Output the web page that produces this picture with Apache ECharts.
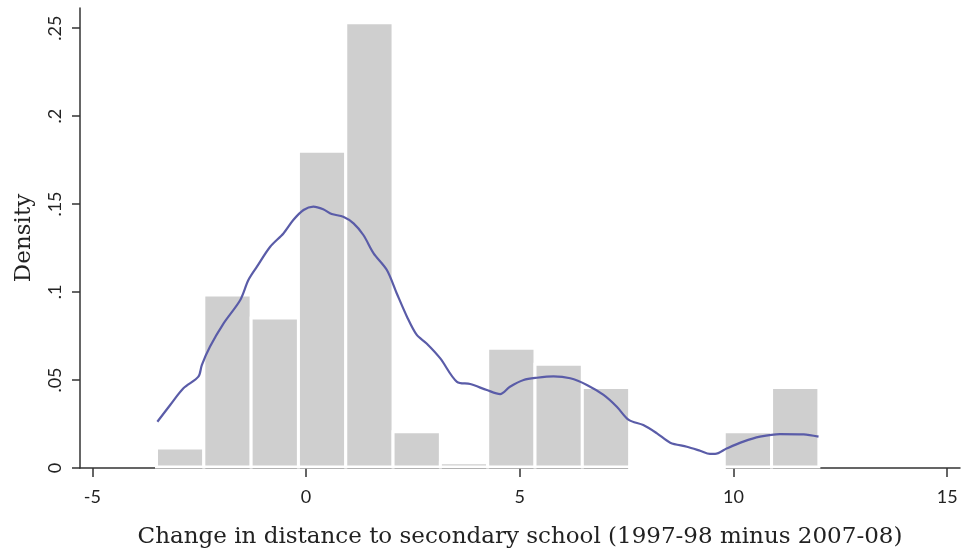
<!DOCTYPE html>
<html>
<head>
<meta charset="utf-8">
<script src="https://cdn.jsdelivr.net/npm/echarts@6/dist/echarts.min.js"></script>
<style>html,body{margin:0;padding:0;background:#fff}#c{width:964px;height:555px}</style>
</head>
<body>
<div id="c"></div>
<script>
// Histogram bins (start of first bin, bin width) and densities
const binStart = -3.5;
const binWidth = 1.107;
const binDensity = [0.0114, 0.0983, 0.0852, 0.180, 0.253, 0.0206, 0.003, 0.068, 0.0589, 0.0458, 0, 0, 0.0206, 0.0458];

// Kernel density curve (x, density)
const kdeX = [-3.48,-3.18,-2.87,-2.52,-2.44,-2.25,-1.93,-1.54,-1.35,-1.15,-0.84,-0.53,-0.30,-0.06,0.17,0.40,0.60,0.87,1.11,1.34,1.58,1.89,2.12,2.36,2.59,2.82,3.14,3.53,3.84,4.23,4.54,4.77,5.09,5.40,5.79,6.18,6.57,6.96,7.27,7.55,7.89,8.21,8.52,8.91,9.22,9.45,9.57,9.85,10.23,10.62,11.09,11.64,11.99];
const kdeY = [0.0263,0.0358,0.0453,0.0519,0.0585,0.0689,0.0822,0.0955,0.1068,0.1144,0.1257,0.1333,0.1409,0.1466,0.1485,0.1470,0.1443,0.1428,0.139,0.1324,0.122,0.1125,0.0993,0.086,0.0756,0.0708,0.0623,0.049,0.0477,0.0443,0.042,0.0462,0.05,0.0513,0.0521,0.051,0.0472,0.0415,0.0348,0.0273,0.0244,0.0197,0.0144,0.0121,0.0098,0.008,0.008,0.0112,0.015,0.0178,0.0193,0.0191,0.0178];

const xTicks = [-5, 0, 5, 10, 15];
const yTicks = [0, 0.05, 0.1, 0.15, 0.2, 0.25];
const yTickLabels = ['0', '.05', '.1', '.15', '.2', '.25'];

const bars = binDensity.map((d, i) => [binStart + i * binWidth, binStart + (i + 1) * binWidth, d]);
const kde = kdeX.map((x, i) => [x, kdeY[i]]);

const chart = echarts.init(document.getElementById('c'));
chart.setOption({
  animation: false,
  backgroundColor: '#fff',
  grid: { left: 80, right: 4, top: 8, bottom: 87 },
  xAxis: {
    type: 'value', min: -5.29, max: 15.3,
    name: 'Change in distance to secondary school (1997-98 minus 2007-08)',
    nameLocation: 'middle', nameGap: 58,
    nameTextStyle: { fontFamily: 'DejaVu Serif', fontSize: 23, color: '#222' },
    axisLine: { show: true, onZero: false, lineStyle: { color: '#333', width: 1.5 } },
    axisTick: { show: true, length: 9, customValues: xTicks, lineStyle: { color: '#333', width: 1.5 } },
    axisLabel: { customValues: xTicks, margin: 20, fontFamily: 'Lato', fontSize: 18, color: '#222' },
    splitLine: { show: false }
  },
  yAxis: {
    type: 'value', min: 0, max: 0.2614,
    name: 'Density', nameLocation: 'middle', nameGap: 44,
    nameTextStyle: { fontFamily: 'DejaVu Serif', fontSize: 23, color: '#222' },
    axisLine: { show: true, onZero: false, lineStyle: { color: '#333', width: 1.5 } },
    axisTick: { show: true, length: 8, customValues: yTicks, lineStyle: { color: '#333', width: 1.5 } },
    axisLabel: {
      customValues: yTicks, rotate: 90, margin: 16, fontFamily: 'Lato', fontSize: 18, color: '#222',
      formatter: v => { const i = yTicks.findIndex(t => Math.abs(t - v) < 1e-9); return i >= 0 ? yTickLabels[i] : ''; }
    },
    splitLine: { show: false }
  },
  series: [
    {
      type: 'custom',
      data: bars,
      renderItem: (params, api) => {
        const p0 = api.coord([api.value(0), api.value(2)]);
        const p1 = api.coord([api.value(1), 0]);
        return {
          type: 'rect',
          shape: { x: p0[0], y: p0[1], width: p1[0] - p0[0], height: p1[1] - p0[1] - 1 },
          style: { fill: '#cfcfcf', stroke: '#ffffff', lineWidth: 3 }
        };
      },
      encode: { x: [0, 1], y: 2 }
    },
    {
      type: 'line',
      data: kde,
      smooth: 0.3,
      symbol: 'none',
      lineStyle: { color: '#5a5ca8', width: 2.2 },
      z: 5
    }
  ]
});
</script>
</body>
</html>
